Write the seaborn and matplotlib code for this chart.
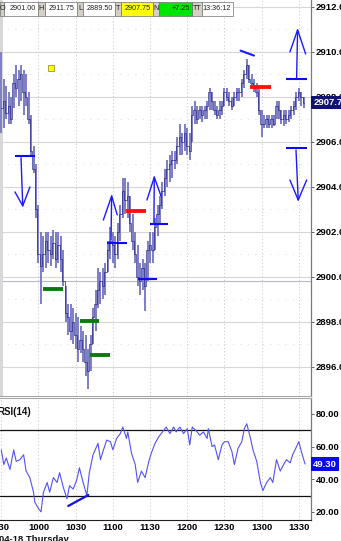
import matplotlib
matplotlib.use("Agg")
import matplotlib.pyplot as plt
import matplotlib.transforms as mtransforms
from matplotlib.patches import Rectangle
import numpy as np
import pandas as pd
import seaborn as sns

# ---------------- data ----------------
# 2-minute bars, minutes after 09:30
bar_min = list(range(0, 246, 2))
bar_high = [2910.0, 2908.8, 2908.5, 2908.2, 2908.0, 2909.0, 2909.4, 2909.2, 2909.4, 2909.2,
            2909.0, 2908.2, 2907.2, 2905.8, 2905.0, 2903.2, 2902.0, 2901.8, 2902.0, 2902.0,
            2901.8, 2902.1, 2902.0, 2902.0, 2901.8, 2901.2, 2899.6, 2898.8, 2898.8, 2898.6,
            2898.4, 2898.2, 2897.8, 2897.6, 2897.4, 2896.8, 2897.4, 2898.6, 2899.4, 2900.4,
            2900.2, 2900.4, 2900.6, 2901.6, 2902.2, 2902.0, 2901.8, 2902.4, 2903.2, 2904.4,
            2904.4, 2904.2, 2903.6, 2902.8, 2902.0, 2901.4, 2900.6, 2900.8, 2900.6, 2901.6,
            2902.0, 2902.0, 2902.6, 2903.2, 2903.6, 2904.2, 2904.8, 2905.2, 2905.4, 2905.6,
            2905.6, 2906.2, 2906.8, 2906.4, 2906.8, 2906.6, 2906.4, 2907.6, 2907.8, 2907.6,
            2907.6, 2907.6, 2907.6, 2907.8, 2908.4, 2908.2, 2907.8, 2907.6, 2907.8, 2907.8,
            2908.4, 2908.4, 2908.2, 2908.0, 2908.2, 2908.4, 2908.4, 2908.8, 2909.2, 2909.7,
            2909.4, 2909.0, 2908.8, 2908.6, 2908.4, 2907.4, 2907.2, 2907.2, 2907.2, 2907.2,
            2907.2, 2907.8, 2907.8, 2907.4, 2907.4, 2907.4, 2907.4, 2907.6, 2907.8, 2908.2,
            2908.4, 2908.2, 2908.0]
bar_low = [2906.4, 2906.6, 2907.0, 2906.8, 2906.8, 2907.5, 2908.0, 2907.6, 2907.8, 2907.2,
           2907.6, 2906.8, 2905.4, 2904.6, 2902.6, 2900.6, 2898.8, 2900.2, 2900.4, 2900.6,
           2900.5, 2900.8, 2900.4, 2900.6, 2900.2, 2899.6, 2898.0, 2897.4, 2897.2, 2897.0,
           2896.8, 2896.2, 2896.6, 2896.2, 2895.6, 2895.0, 2895.8, 2897.0, 2897.6, 2898.6,
           2898.8, 2899.0, 2899.2, 2900.2, 2900.8, 2900.6, 2900.4, 2900.8, 2901.6, 2902.6,
           2902.8, 2902.6, 2902.0, 2901.2, 2900.6, 2899.6, 2899.2, 2899.4, 2898.5, 2899.8,
           2900.6, 2900.6, 2901.2, 2901.8, 2902.4, 2903.0, 2903.6, 2904.0, 2904.2, 2904.4,
           2904.8, 2905.0, 2905.4, 2905.4, 2905.6, 2905.4, 2905.2, 2906.0, 2906.8, 2906.8,
           2907.0, 2906.9, 2907.0, 2907.0, 2907.4, 2907.4, 2907.2, 2907.0, 2907.0, 2907.2,
           2907.6, 2907.8, 2907.6, 2907.4, 2907.6, 2907.8, 2907.8, 2908.0, 2908.4, 2908.8,
           2908.6, 2908.4, 2908.2, 2908.0, 2907.2, 2906.2, 2906.6, 2906.6, 2906.6, 2906.6,
           2906.7, 2907.0, 2907.0, 2906.8, 2906.7, 2906.8, 2906.9, 2907.0, 2907.2, 2907.4,
           2907.8, 2907.6, 2907.5]
bar_close = [2907.5, 2907.8, 2907.3, 2907.6, 2907.0, 2908.6, 2908.4, 2908.8, 2909.0, 2908.2,
             2908.0, 2907.0, 2905.6, 2904.8, 2903.0, 2901.0, 2900.5, 2901.0, 2901.6, 2901.2,
             2901.0, 2901.5, 2900.8, 2901.4, 2900.8, 2899.8, 2898.4, 2898.2, 2897.6, 2898.0,
             2897.4, 2896.8, 2897.2, 2896.8, 2896.2, 2895.8, 2897.0, 2898.2, 2898.8, 2899.4,
             2899.8, 2899.6, 2900.2, 2901.2, 2901.6, 2901.4, 2901.0, 2902.0, 2902.8, 2903.8,
             2903.4, 2903.6, 2902.4, 2901.6, 2901.0, 2900.0, 2899.8, 2900.4, 2899.6, 2901.2,
             2901.4, 2901.2, 2902.2, 2902.8, 2903.2, 2903.8, 2904.4, 2904.8, 2905.0, 2905.2,
             2905.2, 2905.8, 2906.2, 2906.0, 2906.4, 2905.8, 2905.6, 2907.2, 2907.4, 2907.0,
             2907.4, 2907.2, 2907.4, 2907.6, 2908.2, 2907.8, 2907.4, 2907.2, 2907.4, 2907.6,
             2908.2, 2908.0, 2907.8, 2907.6, 2908.0, 2908.2, 2908.2, 2908.6, 2909.0, 2909.4,
             2908.8, 2908.6, 2908.4, 2908.2, 2907.4, 2906.8, 2906.8, 2907.0, 2906.8, 2907.0,
             2906.8, 2907.6, 2907.4, 2907.0, 2907.2, 2907.0, 2907.2, 2907.4, 2907.6, 2908.0,
             2908.2, 2908.0, 2907.75]

rsi_min = [0, 2, 4, 7, 10, 12, 15, 18, 20, 23, 26, 27, 30, 32, 34, 37, 39, 42, 45, 47,
           50, 53, 55, 58, 61, 63, 66, 69, 71, 74, 78, 80, 82, 85, 88, 90, 93, 96, 98, 101,
           102, 105, 108, 110, 113, 116, 119, 121, 124, 127, 131, 133, 136, 139, 141, 144, 147, 150, 152, 154,
           158, 160, 163, 166, 167, 170, 172, 175, 178, 180, 183, 186, 188, 191, 194, 196, 198, 201, 203, 206,
           209, 211, 214, 217, 219, 222, 225, 227, 230, 233, 235, 240, 242, 245]
rsi_val = [58, 49, 53, 46, 58, 51, 52, 55, 45, 41, 32, 26, 22, 20, 32, 38, 32, 41, 38, 44,
           35, 28, 36, 34, 40, 47, 38, 30, 44, 55, 62, 52, 57, 64, 63, 58, 65, 68, 72, 65,
           69, 56, 49, 38, 45, 41, 51, 56, 62, 66, 70, 72, 68, 72, 69, 72, 68, 71, 61, 72,
           69, 67, 69, 65, 71, 60, 61, 52, 61, 63, 63, 57, 49, 59, 63, 71, 74, 65, 58, 51,
           38, 33, 38, 41, 38, 52, 45, 48, 52, 50, 55, 63, 57, 49.3]

price_ticks = [2896, 2898, 2900, 2902, 2904, 2906, 2908, 2910, 2912]
rsi_ticks = [20, 40, 60, 80]
rsi_bands = [70, 30]
time_ticks = [0, 30, 60, 90, 120, 150, 180, 210, 240]
time_labels = ["930", "1000", "1030", "1100", "1130", "1200", "1230", "1300", "1330"]

last_price = 2907.75
last_rsi = 49.30
header_labels = ["O", "H", "L", "T", "N", "TT"]
header_values = ["2901.00", "2911.75", "2889.50", "2907.75", "+7.25", "13:36:12"]

# drawn level lines: (start min, end min, price)
blue_levels = [(11, 27.2, 2905.38), (85, 101, 2901.53), (120, 134.5, 2902.34),
               (110, 125.8, 2899.9), (230, 246.3, 2908.8), (230, 246.3, 2905.75)]
green_levels = [(33.6, 49.8, 2899.47), (63.5, 78.8, 2898.04), (71.5, 87.7, 2896.55)]
red_levels = [(100.3, 117, 2902.93), (200.6, 217.3, 2908.46)]
# arrows: base, tip, left arm end, right arm end  (min, price)
arrows = [((15.9, 2905.3), (17.3, 2903.16), (11.0, 2903.78), (23.1, 2904.0)),
          ((88.5, 2901.64), (89.0, 2903.6), (82.3, 2902.53), (93.5, 2902.76)),
          ((123.1, 2902.36), (123.4, 2904.44), (117.5, 2903.42), (128.8, 2903.6)),
          ((238.2, 2908.84), (239.0, 2910.98), (232.8, 2910.0), (245.5, 2909.91)),
          ((237.7, 2905.64), (239.5, 2903.42), (232.8, 2904.31), (246.3, 2904.31))]
peak_tick = ((193, 2910.06), (203.8, 2909.84))
marker_pt = (40, 2909.3)
rsi_divergence = ((54, 23.6), (70.2, 30.3))

# ---------------- style ----------------
sns.set_style("white")
plt.rcParams['font.family'] = ['Liberation Sans', 'DejaVu Sans']

W, H = 341, 541
fig = plt.figure(figsize=(W / 100, H / 100), dpi=100)
fig.patch.set_facecolor("white")

def fy(y):
    return 1 - y / H

ax_p = fig.add_axes([0, fy(396), 311 / W, 396 / H])
ax_r = fig.add_axes([0, fy(520), 311 / W, (520 - 398) / H])

xlim = (-1.05, 249.8)
for ax in (ax_p, ax_r):
    ax.set_xlim(*xlim)
    ax.set_facecolor("white")
    ax.spines['left'].set_visible(False)
    ax.spines['right'].set_color('#7a7a7a')
    ax.spines['right'].set_linewidth(0.9)
    for t in time_ticks:
        ax.axvline(t, color='#c4c4c4', lw=0.7, ls=(0, (1, 2.5)), zorder=0)

ax_p.spines['top'].set_visible(False)
ax_p.spines['bottom'].set_color('#a8a8a8')
ax_r.spines['top'].set_color('#a8a8a8')
ax_r.spines['bottom'].set_color('#202020')

# ---------------- price panel ----------------
ax_p.set_ylim(2894.71, 2912.31)
for v in price_ticks:
    ax_p.axhline(v, color='#d6d6d6', lw=0.8, zorder=0)
    ax_p.axhline(v + 1, color='#cfcfcf', lw=0.6, ls=(0, (1, 8)), zorder=0)
ax_p.axhline(2899.8, color='#b8b8c8', lw=0.8, zorder=0)
ax_p.axvline(0, color='#d8d8d8', lw=2.2, zorder=0)

ax_p.vlines(bar_min, bar_low, bar_high, color='#8080c4', lw=1.45, zorder=2)
sns.lineplot(x=bar_min, y=bar_close, ax=ax_p, color='#2a2a8e', lw=0.5,
             drawstyle='steps-mid', zorder=3, legend=False)

for s, e, p in blue_levels:
    ax_p.plot([s, e], [p, p], color='#0a0aff', lw=1.5, solid_capstyle='butt', zorder=4)
for s, e, p in green_levels:
    ax_p.plot([s, e], [p, p], color='#0b7a0b', lw=2.8, solid_capstyle='butt', zorder=4)
for s, e, p in red_levels:
    ax_p.plot([s, e], [p, p], color='#ff1010', lw=2.8, solid_capstyle='butt', zorder=4)
for base, tip, al, ar in arrows:
    ax_p.plot([base[0], tip[0]], [base[1], tip[1]], color='#1a1aff', lw=1.0, zorder=5)
    ax_p.plot([al[0], tip[0], ar[0]], [al[1], tip[1], ar[1]], color='#1a1aff', lw=1.0, zorder=5)
ax_p.plot([peak_tick[0][0], peak_tick[1][0]], [peak_tick[0][1], peak_tick[1][1]],
          color='#1a1aff', lw=1.5, zorder=5)
ax_p.plot([marker_pt[0]], [marker_pt[1]], marker='s', ms=4.5, color='#ffff00',
          mec='#9a9a20', mew=0.6, zorder=5)

ax_p.yaxis.tick_right()
ax_p.set_yticks(price_ticks)
ax_p.set_yticklabels([f"{v:.2f}" for v in price_ticks])
ax_p.tick_params(axis='y', length=2, width=0.6, pad=1.2, labelsize=6.8,
                 colors='#505050', labelcolor='black')
ax_p.tick_params(axis='x', length=0, labelbottom=False)
for lbl in ax_p.get_yticklabels():
    lbl.set_fontweight('bold')
ax_p.set_ylabel("")
ax_p.set_xlabel("")

tp = mtransforms.blended_transform_factory(ax_p.transAxes, ax_p.transData)
ax_p.text(1 + 2.2 / 311, last_price, f"{last_price:.2f}", transform=tp, ha='left', va='center',
          color='white', fontsize=6.8, fontweight='bold', zorder=10, clip_on=False,
          bbox=dict(boxstyle='square,pad=0.25', fc='#121270', ec='none'))

# ---------------- RSI panel ----------------
ax_r.set_ylim(15.0, 89.8)
for b in rsi_bands:
    ax_r.axhline(b, color='#111111', lw=0.9, zorder=1)
sns.lineplot(x=rsi_min, y=rsi_val, ax=ax_r, color='#5252f4', lw=0.8, zorder=3, legend=False)
ax_r.plot([rsi_divergence[0][0], rsi_divergence[1][0]],
          [rsi_divergence[0][1], rsi_divergence[1][1]], color='#1212e0', lw=1.6, zorder=4)

ax_r.yaxis.tick_right()
ax_r.set_yticks(rsi_ticks)
ax_r.set_yticklabels([f"{v:.2f}" for v in rsi_ticks])
ax_r.set_xticks(time_ticks)
ax_r.set_xticklabels(time_labels)
ax_r.tick_params(axis='y', length=2, width=0.6, pad=1.2, labelsize=6.8,
                 colors='#505050', labelcolor='black')
ax_r.tick_params(axis='x', length=0, pad=2.5, labelsize=6.8, labelcolor='black')
for lbl in ax_r.get_yticklabels() + ax_r.get_xticklabels():
    lbl.set_fontweight('bold')
ax_r.set_ylabel("")
ax_r.set_xlabel("")

tr = mtransforms.blended_transform_factory(ax_r.transAxes, ax_r.transData)
ax_r.text(1 + 2.2 / 311, last_rsi, f"{last_rsi:.2f}", transform=tr, ha='left', va='center',
          color='white', fontsize=6.8, fontweight='bold', zorder=10, clip_on=False,
          bbox=dict(boxstyle='square,pad=0.25', fc='#0a0af0', ec='none'))

# ---------------- overlay: header, captions ----------------
ov = fig.add_axes([0, 0, 1, 1])
ov.set_xlim(0, W)
ov.set_ylim(H, 0)
ov.axis('off')

label_cells = [(0, 4), (38, 44.5), (77, 83), (115, 121), (153, 159), (192, 202)]
value_cells = [(4, 38), (44.5, 77), (83, 115), (121, 153), (159, 192), (202, 233)]
value_bg = ['white', 'white', 'white', '#ffff00', '#00e600', 'white']
y0, y1 = 1.5, 15.5
for (a, b), lab in zip(label_cells, header_labels):
    ov.add_patch(Rectangle((a, y0), b - a, y1 - y0, fc='#d4d0c8', ec='#707070', lw=0.5))
    ov.text((a + b) / 2, (y0 + y1) / 2 + 0.3, lab, ha='center', va='center', fontsize=5.2,
            color='#202020')
for (a, b), val, bg in zip(value_cells, header_values, value_bg):
    ov.add_patch(Rectangle((a, y0), b - a, y1 - y0, fc=bg, ec='#707070', lw=0.5))
    ov.text(b - 2, (y0 + y1) / 2 + 0.3, val, ha='right', va='center', fontsize=5.2,
            color='#202020')

ov.text(-3, 412, "RSI(14)", ha='left', va='center', fontsize=7, fontweight='bold', color='#111111')
ov.text(-1, 534.5, "04-18 Thursday", ha='left', va='top', fontsize=6.8, fontweight='bold',
        color='#111111')

fig.savefig("out.png", dpi=100)
